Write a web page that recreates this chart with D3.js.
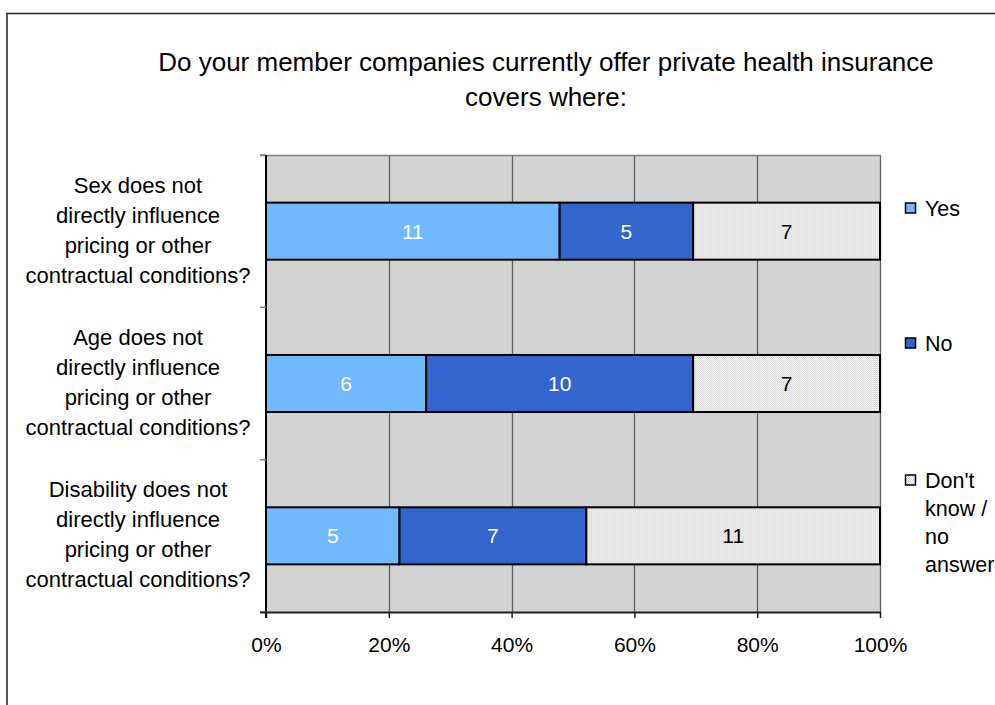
<!DOCTYPE html>
<html>
<head>
<meta charset="utf-8">
<script src="https://cdn.jsdelivr.net/npm/d3@7"></script>
<style>
  html, body { margin: 0; padding: 0; background: #ffffff; }
  svg { display: block; font-family: "Liberation Sans", Arial, sans-serif; }
</style>
</head>
<body>
<svg id="chart" width="995" height="705"></svg>
<script>
// Survey answers (counts of member companies)
const categories = [
  ["Sex does not", "directly influence", "pricing or other", "contractual conditions?"],
  ["Age does not", "directly influence", "pricing or other", "contractual conditions?"],
  ["Disability does not", "directly influence", "pricing or other", "contractual conditions?"]
];
const seriesNames = ["Yes", "No", "Don't know / no answer"];
const yesValues = [11, 6, 5];
const noValues = [5, 10, 7];
const dontKnowValues = [7, 7, 11];
const tickValues = [0, 0.2, 0.4, 0.6, 0.8, 1];
const titleLines = ["Do your member companies currently offer private health insurance", "covers where:"];
const legendLines = [["Yes"], ["No"], ["Don't", "know /", "no", "answer"]];

const svg = d3.select("#chart");
const W = 995, H = 705;
const plot = { left: 266, right: 880, top: 155, bottom: 612 };

// pattern for the "don't know" segments
const defs = svg.append("defs");
const pat = defs.append("pattern").attr("id", "dots")
  .attr("patternUnits", "userSpaceOnUse").attr("width", 2).attr("height", 2);
pat.append("rect").attr("width", 2).attr("height", 2).attr("fill", "#d6d6d6");
pat.append("rect").attr("width", 1).attr("height", 1).attr("fill", "#ffffff");
pat.append("rect").attr("x", 1).attr("y", 1).attr("width", 1).attr("height", 1).attr("fill", "#f0f0f0");

const colors = ["#70b8ff", "#3366cc", "url(#dots)"];
const labelColors = ["#ffffff", "#ffffff", "#000000"];

// outer chart border (runs past the right and bottom edges)
svg.append("rect").attr("x", 7).attr("y", 13.5).attr("width", W + 20).attr("height", H + 20)
  .attr("fill", "#ffffff").attr("stroke", "#202020").attr("stroke-width", 1.5);

// title
svg.append("text").attr("x", 546).attr("y", 71).attr("text-anchor", "middle")
  .attr("font-size", 26).attr("fill", "#000")
  .selectAll("tspan").data(titleLines).join("tspan")
  .attr("x", 546).attr("dy", (d, i) => i === 0 ? 0 : 35).text(d => d);

const rows = categories.map((c, i) => {
  const vals = [yesValues[i], noValues[i], dontKnowValues[i]];
  const total = d3.sum(vals);
  let acc = 0;
  const segs = vals.map((v, k) => {
    const s = { k, v, x0: acc / total, x1: (acc + v) / total };
    acc += v;
    return s;
  });
  return { i, segs };
});

const x = d3.scaleLinear().domain([0, 1]).range([plot.left, plot.right]);
const y = d3.scaleBand().domain(d3.range(categories.length))
  .range([plot.top, plot.bottom]).paddingInner(0).paddingOuter(0);
const barH = y.bandwidth() / 2.67;

// plot background
svg.append("rect").attr("x", plot.left).attr("y", plot.top)
  .attr("width", plot.right - plot.left).attr("height", plot.bottom - plot.top)
  .attr("fill", "#d3d3d3");

// vertical gridlines
svg.append("g").selectAll("line").data(tickValues.slice(1)).join("line")
  .attr("x1", d => Math.round(x(d)) + 0.5).attr("x2", d => Math.round(x(d)) + 0.5)
  .attr("y1", plot.top).attr("y2", plot.bottom)
  .attr("stroke", "#606060").attr("stroke-width", 1.3);
// top edge of plot area
svg.append("line").attr("x1", plot.left - 6).attr("x2", plot.right + 1)
  .attr("y1", plot.top + 0.5).attr("y2", plot.top + 0.5)
  .attr("stroke", "#808080").attr("stroke-width", 1.3);

// bars
const rowG = svg.append("g").selectAll("g").data(rows).join("g")
  .attr("transform", d => `translate(0,${y(d.i) + (y.bandwidth() - barH) / 2})`);
rowG.selectAll("rect").data(d => d.segs).join("rect")
  .attr("x", d => x(d.x0)).attr("width", d => x(d.x1) - x(d.x0))
  .attr("y", 0).attr("height", barH)
  .attr("fill", d => colors[d.k]).attr("stroke", "#000").attr("stroke-width", 2);
rowG.selectAll("text").data(d => d.segs).join("text")
  .attr("x", d => (x(d.x0) + x(d.x1)) / 2).attr("y", barH / 2 + 7.5)
  .attr("text-anchor", "middle").attr("font-size", 21)
  .attr("fill", d => labelColors[d.k]).text(d => d.v);

// y axis with ticks at category boundaries
const yAxis = svg.append("g");
yAxis.append("line").attr("x1", plot.left).attr("x2", plot.left)
  .attr("y1", plot.top).attr("y2", plot.bottom + 6).attr("stroke", "#000").attr("stroke-width", 2);
yAxis.selectAll("line.tick").data(d3.range(categories.length + 1)).join("line").attr("class", "tick")
  .attr("x1", plot.left - 6).attr("x2", plot.left)
  .attr("y1", d => plot.top + d * y.step()).attr("y2", d => plot.top + d * y.step())
  .attr("stroke", "#808080").attr("stroke-width", 1.5);

// category labels
svg.append("g").selectAll("text").data(categories).join("text")
  .attr("text-anchor", "middle").attr("font-size", 22).attr("fill", "#000")
  .attr("transform", (d, i) => `translate(138,${y(i) + y.bandwidth() / 2 - 38.5})`)
  .selectAll("tspan").data(d => d).join("tspan")
  .attr("x", 0).attr("dy", (d, j) => j === 0 ? 0 : 30).text(d => d);

// x axis
const xAxis = d3.axisBottom(x).tickValues(tickValues).tickFormat(d3.format(".0%"))
  .tickSize(6).tickPadding(19);
const xg = svg.append("g").attr("transform", `translate(0,${plot.bottom})`).call(xAxis);
xg.select(".domain").attr("stroke", "#202020").attr("stroke-width", 2)
  .attr("d", `M${plot.left - 6},0.5H${plot.right + 1}`);
xg.selectAll(".tick line").attr("stroke", "#202020").attr("stroke-width", 1.5);
xg.selectAll(".tick text").attr("font-size", 21).attr("fill", "#000")
  .attr("font-family", "'Liberation Sans', Arial, sans-serif");

// legend
const legendY = [208, 343, 480];
const lg = svg.append("g").selectAll("g").data(seriesNames).join("g")
  .attr("transform", (d, i) => `translate(905,${legendY[i]})`);
lg.append("rect").attr("x", 0.5).attr("y", -5).attr("width", 10).attr("height", 10)
  .attr("fill", (d, i) => colors[i]).attr("stroke", "#000").attr("stroke-width", 1.5);
lg.append("text").attr("font-size", 21.5).attr("fill", "#000")
  .attr("y", 7.5)
  .selectAll("tspan").data((d, i) => legendLines[i]).join("tspan")
  .attr("x", 20).attr("dy", (d, j) => j === 0 ? 0 : 28).text(d => d);
</script>
</body>
</html>
